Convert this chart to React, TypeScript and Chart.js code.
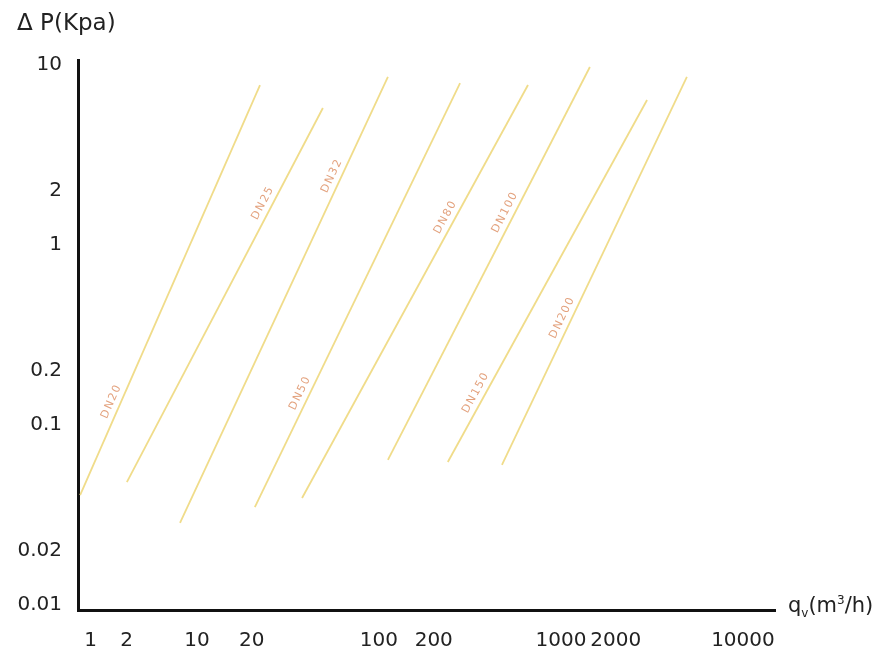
import React, { useEffect, useRef } from 'react';
import { Chart, registerables } from 'chart.js';

Chart.register(...registerables);

// Pipe sizes (one straight line each on the log-log chart)
const seriesNames = ['DN20', 'DN25', 'DN32', 'DN50', 'DN80', 'DN100', 'DN150', 'DN200'];
// Flow q_v (m³/h) at the lower and upper end of each line
const flowStart = [2.28, 4.12, 8.07, 20.8, 37.8, 112, 239, 474];
const flowEnd = [22.2, 49.2, 112, 279, 659, 1442, 2972, 4920];
// Pressure loss ΔP (kPa) at the lower and upper end of each line
const dpStart = [0.0408, 0.0482, 0.0286, 0.035, 0.0393, 0.064, 0.0623, 0.06];
const dpEnd = [7.74, 5.77, 8.58, 7.94, 7.74, 9.75, 6.39, 8.58];

// Axis ticks
const yTickValues = [0.01, 0.02, 0.1, 0.2, 1, 2, 10];
const xTickLabels = ['1', '2', '10', '20', '100', '200', '1000', '2000', '10000'];
// where the source figure places its x labels along the flow axis
const xTickValues = [2.6, 4.1, 10, 20, 100, 200, 1000, 2000, 10000];

// fraction along each line where its name is written
const labelFraction = [0.22, 0.735, 0.77, 0.26, 0.67, 0.62, 0.18, 0.37];

const LINE_COLOR = '#f0dc8a';
const LABEL_COLOR = '#e3a27e';
const TEXT_COLOR = '#222';
const FONT = '"DejaVu Sans", "Liberation Sans", Arial, sans-serif';

const annotPlugin = {
  id: 'annot',
  afterDatasetsDraw(chart: any) {
    const ctx = chart.ctx as CanvasRenderingContext2D;
    ctx.save();
    ctx.fillStyle = LABEL_COLOR;
    ctx.font = `11px ${FONT}`;
    (ctx as any).letterSpacing = '1.5px';
    ctx.textAlign = 'center';
    ctx.textBaseline = 'middle';
    chart.data.datasets.forEach((ds: any, i: number) => {
      const meta = chart.getDatasetMeta(i);
      const p0 = meta.data[0];
      const p1 = meta.data[1];
      const t = labelFraction[i];
      const x = p0.x + (p1.x - p0.x) * t;
      const y = p0.y + (p1.y - p0.y) * t;
      const ang = Math.atan2(p1.y - p0.y, p1.x - p0.x);
      ctx.save();
      ctx.translate(x, y);
      ctx.rotate(ang);
      ctx.fillText(ds.label, 0, -9);
      ctx.restore();
    });
    ctx.restore();
  },
  afterDraw(chart: any) {
    const ctx = chart.ctx as CanvasRenderingContext2D;
    const ca = chart.chartArea;
    ctx.save();
    ctx.fillStyle = TEXT_COLOR;
    ctx.textBaseline = 'middle';
    ctx.textAlign = 'left';
    // y-axis title
    ctx.font = `23px ${FONT}`;
    ctx.fillText('Δ P(Kpa)', ca.left - 61, ca.top - 36);
    // x-axis title: q_v(m³/h)
    let x = ca.right + 13;
    const y = ca.bottom - 3;
    const big = `21px ${FONT}`;
    const small = `12px ${FONT}`;
    ctx.font = big;
    ctx.fillText('q', x, y);
    x += ctx.measureText('q').width;
    ctx.font = small;
    ctx.fillText('v', x, y + 7);
    x += ctx.measureText('v').width;
    ctx.font = big;
    ctx.fillText('(m', x, y);
    x += ctx.measureText('(m').width;
    ctx.font = small;
    ctx.fillText('3', x, y - 6);
    x += ctx.measureText('3').width;
    ctx.font = big;
    ctx.fillText('/h)', x, y);
    ctx.restore();
  },
};

export default function App() {
  const ref = useRef<HTMLCanvasElement | null>(null);

  useEffect(() => {
    if (!ref.current) return;
    const datasets = seriesNames.map((name, i) => ({
      label: name,
      data: [
        { x: flowStart[i], y: dpStart[i] },
        { x: flowEnd[i], y: dpEnd[i] },
      ],
      showLine: true,
      borderColor: LINE_COLOR,
      backgroundColor: LINE_COLOR,
      borderWidth: 1.8,
      pointRadius: 0,
      pointHoverRadius: 0,
    }));

    const chart = new Chart(ref.current, {
      type: 'scatter',
      data: { datasets },
      options: {
        animation: false,
        responsive: false,
        layout: { padding: { top: 60, right: 109, left: 0, bottom: 0 } },
        plugins: {
          legend: { display: false },
          tooltip: { enabled: false },
          title: { display: false },
        },
        scales: {
          x: {
            type: 'logarithmic',
            min: 2.22,
            max: 15000,
            afterBuildTicks: (s: any) => {
              s.ticks = xTickValues.map((v) => ({ value: v }));
            },
            afterFit: (s: any) => {
              s.height = 45;
            },
            grid: { display: false, drawTicks: false },
            border: { display: true, color: '#111', width: 3 },
            ticks: {
              autoSkip: false,
              maxRotation: 0,
              padding: 19,
              color: TEXT_COLOR,
              font: { size: 20, family: FONT },
              callback: (_v: any, i: number) => xTickLabels[i],
            },
          },
          y: {
            type: 'logarithmic',
            min: 0.00938,
            max: 10.66,
            afterBuildTicks: (s: any) => {
              s.ticks = yTickValues.map((v) => ({ value: v }));
            },
            afterFit: (s: any) => {
              s.width = 78;
            },
            grid: { display: false, drawTicks: false },
            border: { display: true, color: '#111', width: 3 },
            ticks: {
              padding: 16,
              color: TEXT_COLOR,
              font: { size: 20, family: FONT },
              callback: (v: any) => String(v),
            },
          },
        },
      },
      plugins: [annotPlugin],
    } as any);

    return () => chart.destroy();
  }, []);

  return (
    <div style={{ position: 'fixed', left: 0, top: 0, width: 884, height: 655, background: '#fff' }}>
      <canvas ref={ref} width={884} height={655} />
    </div>
  );
}
